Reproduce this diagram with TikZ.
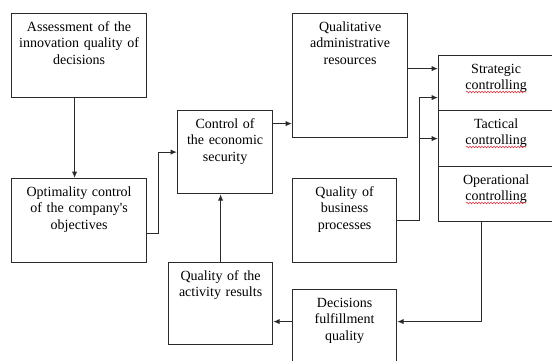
\documentclass[tikz,border=0pt]{standalone}
\usepackage{fontspec}
\setmainfont{Liberation Serif}
\usepackage{xcolor}
\usetikzlibrary{
    positioning,          % For placing nodes relative to each other
    arrows.meta,          % For modern arrow tips like 'Latex'
    decorations.pathmorphing % For the wavy underline
}
\definecolor{LineColor}{HTML}{2B2B2B}
\definecolor{WaveColor}{HTML}{E0303A}

\begin{document}
\begin{tikzpicture}[
    % one unit is one pixel of the picture, y runs downwards
    x=1bp, y=-1bp,
    % Set the default font to a Times-like serif
    font=\fontsize{14bp}{16.5bp}\selectfont,
]
    % --- Define TikZ styles for diagram elements ---
    \tikzset{
        % Style for the boxes: width, height, text at the top
        box/.style 2 args={
            draw=LineColor,
            line width=1.2bp,
            anchor=north west,
            inner xsep=0pt,
            inner ysep=0pt,
            text width=#1,
            align=center,
            text height=17.5bp,
            text depth=#2-17.5bp,
        },
        % Style for the arrows connecting the boxes
        arrow/.style={
            draw=LineColor,
            line width=1.2bp,
            -{Latex[length=6.5bp,width=5.5bp]}
        },
        % Style for the red wavy underline
        wave/.style={
            draw=WaveColor,
            line width=0.6bp,
            decorate,
            decoration={snake, segment length=3bp, amplitude=0.8bp}
        }
    }

    % --- Fix the frame of the picture ---
    \useasboundingbox (0,0) rectangle (552,360);
    \clip (0,0) rectangle (552,360);

    % 1. Left column
    \node[box={135bp}{84bp}] (assess) at (11,13) {Assessment of the\\innovation quality of\\decisions};
    \node[box={135bp}{84bp}] (optimal) at (11,178) {Optimality control\\of the company\textquotesingle s\\objectives};

    % 2. Middle column
    \node[box={95bp}{83bp}] (control) at (177,110) {Control of\\the economic\\security};
    \node[box={104bp}{82bp}] (results) at (168,262) {Quality of the\\activity results};

    % 3. Column of resources and processes
    \node[box={115bp}{124bp}] (resources) at (292,13) {Qualitative\\administrative\\resources};
    \node[box={104bp}{84bp}] (processes) at (292,178) {Quality of\\business\\processes};
    \node[box={104bp}{84bp}] (decisions) at (292,289) {Decisions\\fulfillment\\quality};

    % 4. Stack of controlling levels on the right
    \node[box={115bp}{55bp}] (strategic) at (438,55) {Strategic\\controlling};
    \node[box={115bp}{56bp}] (tactical) at (438,110) {Tactical\\controlling};
    \node[box={115bp}{55bp}] (operational) at (438,166) {Operational\\controlling};

    % wavy underline under each "controlling"
    \foreach \lvl in {strategic, tactical, operational}
        \draw[wave] ([xshift=-30bp, yshift=-37bp]\lvl.north) -- ([xshift=30bp, yshift=-37bp]\lvl.north);

    % 5. Draw the arrows connecting the boxes
    \draw[arrow] ([xshift=-4.5bp]assess.south) -- ([xshift=-4.5bp]optimal.north);
    \draw[arrow] ([yshift=-13bp]optimal.east) -- ++(11,0) |- (control.west);
    \draw[arrow] (results.north) -- (results.north |- control.south);
    \draw[arrow] ([yshift=28.5bp]control.east) -- ([yshift=28.5bp]control.east -| resources.west);
    \draw[arrow] ([yshift=7bp]resources.east) -- ([yshift=7bp]resources.east -| strategic.west);

    % business processes feed strategic and tactical levels
    \draw[arrow] (processes.east) -- ++(22,0) coordinate (fork) |- ([yshift=-14.5bp]strategic.west);
    \draw[arrow] (fork |- tactical.west) -- (tactical.west);

    % back loop through the bottom
    \draw[arrow] ([xshift=-15bp]operational.south) |- ([yshift=10bp]decisions.east);
    \draw[arrow] ([yshift=10bp]decisions.west) -- ([yshift=10bp]decisions.west -| results.east);

\end{tikzpicture}
\end{document}
